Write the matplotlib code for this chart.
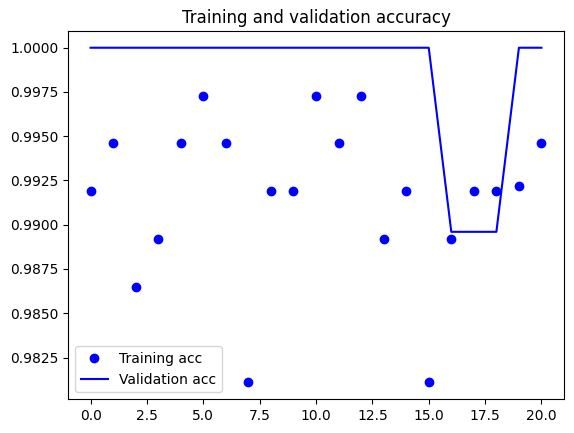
import matplotlib
matplotlib.use("Agg")
import matplotlib.pyplot as plt

epochs = list(range(21))
acc = [0.9919, 0.9946, 0.9865, 0.9892, 0.9946, 0.9973, 0.9946, 0.9811,
       0.9919, 0.9919, 0.9973, 0.9946, 0.9973, 0.9892, 0.9919, 0.9811,
       0.9892, 0.9919, 0.9919, 0.9922, 0.9946]
val_acc = [1.0, 1.0, 1.0, 1.0, 1.0, 1.0, 1.0, 1.0, 1.0, 1.0, 1.0, 1.0,
           1.0, 1.0, 1.0, 1.0, 0.9896, 0.9896, 0.9896, 1.0, 1.0]

fig = plt.figure(figsize=(5.74, 4.33), dpi=100)
fig.subplots_adjust(left=0.1185, right=0.9826, top=0.9284, bottom=0.0785)
plt.plot(epochs, acc, 'bo', label='Training acc')
plt.plot(epochs, val_acc, 'b', label='Validation acc')
plt.title('Training and validation accuracy')
plt.legend(loc='lower left')
plt.savefig('out.png', dpi=100)
